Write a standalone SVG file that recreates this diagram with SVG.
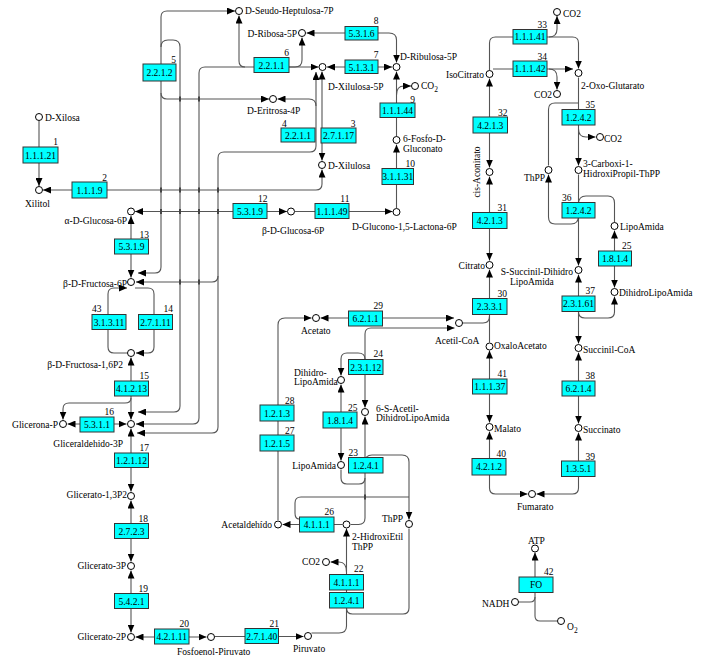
<svg xmlns="http://www.w3.org/2000/svg" width="702" height="659" viewBox="0 0 702 659">
<defs>
<marker id="a" viewBox="0 0 8 7" refX="8" refY="3.5" markerWidth="8" markerHeight="7" markerUnits="userSpaceOnUse" orient="auto-start-reverse"><path d="M0,0L8,3.5L0,7z" fill="#000"/></marker>
<style>
.l{fill:none;stroke:#555;stroke-width:1.1}
.s{marker-start:url(#a)}
.e{marker-end:url(#a)}
.k{fill:#444}
.c{fill:#fff;stroke:#000;stroke-width:1}
.b{fill:#00ffff;stroke:#333;stroke-width:1}
text{font-family:"Liberation Serif",serif;font-size:9.5px;fill:#000}
.m{text-anchor:middle}
.r{text-anchor:end}
</style>
</defs>
<rect width="702" height="659" fill="#fff"/>
<g id="connectors">
<path class="l e" d="M39,121L39,186"/>
<path class="l s e" d="M43,190L316,190Q322,190 322,184L322,169.5"/>
<path class="l s e" d="M235,11L167,11Q161,11 161,17L161,267Q161,273 155,273L138,273"/>
<path class="l e" d="M161,47Q161,40 168,40L173,40Q180,40 180,47L180,406Q180,412 174,412L138,412"/>
<path class="l e" d="M161,93Q161,99 167,99L269,99"/>
<path class="l s e" d="M318.5,67L205,67Q199,67 199,73L199,418Q199,424 193,424L136,424"/>
<path class="l s" d="M239,15.5L239,61Q239,67 245,67"/>
<path class="l e" d="M289,67L295,67Q302,67 302,60L302,37.5"/>
<path class="l s e" d="M316,72L316,146Q316,152 310,152L224,152Q218,152 218,158L218,427Q218,433 212,433L137,433"/>
<path class="l e" d="M218,276Q218,282 212,282L136,282"/>
<path class="l e" d="M316,106Q316,99 309,99L277.5,99"/>
<path class="l s e" d="M322,71.5L322,160.5"/>
<path class="l s e" d="M327,67L392,67"/>
<path class="l s e" d="M306.5,33L389,33Q396.5,33 396.5,40L396.5,62.5"/>
<path class="l s" d="M396.5,71.5L396.5,136.5"/>
<path class="l e" d="M396.5,95Q396.5,86 404,86L411,86"/>
<path class="l s" d="M396.5,144.5L396.5,208"/>
<path class="l e" d="M295,211.5L392.5,211.5"/>
<path class="l s e" d="M135,211.5L287,211.5"/>
<path class="l s e" d="M131,216L131,277.5"/>
<path class="l e" d="M127.5,353L114,353Q108,353 108,347L108,294Q108,288 114,288L127,288"/>
<path class="l e" d="M135,288L148,288Q154,288 154,294L154,347Q154,353 148,353L136,353"/>
<path class="l s e" d="M131,357.5L131,419.5"/>
<path class="l e" d="M131,398Q131,403 125,403L69,403Q63,403 63,409L63,419.5"/>
<path class="l s e" d="M67.5,424L126.5,424"/>
<path class="l s e" d="M131,428.5L131,491.5"/>
<path class="l s e" d="M131,500.5L131,561.5"/>
<path class="l s e" d="M131,570.5L131,632.5"/>
<path class="l s e" d="M135.5,637L206.5,637"/>
<path class="l e" d="M215,636.5L303.5,636.5"/>
<path class="l e" d="M311.5,633L339,633Q346.5,633 346.5,626L346.5,528.5"/>
<path class="l e" d="M346.5,572Q346.5,562 339,562L330.5,562"/>
<path class="l" d="M409,528.5L409,608Q409,614 403,614L352.5,614Q346.5,614 346.5,608"/>
<path class="l e" d="M342.5,524.5L282.5,524.5"/>
<path class="l s" d="M365,416.5L365,518Q365,524.5 358.5,524.5L351,524.5"/>
<path class="l e" d="M365,462Q365,455 372,455L402,455Q409,455 409,462L409,519.5"/>
<path class="l" d="M299,519Q295,519 295,513L295,503Q295,497 301,497L409,497"/>
<path class="l s e" d="M454.5,328L371,328Q365,328 365,334L365,407.5"/>
<path class="l e" d="M365,359Q365,353 358,353L347,353Q341,353 341,359L341,375.5"/>
<path class="l s e" d="M341,384.5L341,460.5"/>
<path class="l" d="M341,469.5L341,478Q341,484 347,484L359,484Q365,484 365,478"/>
<path class="l s e" d="M320.5,318L454,318"/>
<path class="l e" d="M278,520L278,325Q278,318 285,318L311.5,318"/>
<path class="l" d="M462.5,323L483,323Q489.5,323 489.5,316"/>
<path class="l s" d="M489.5,269.5L489.5,342.5"/>
<path class="l s e" d="M489.5,350.5L489.5,422.5"/>
<path class="l s e" d="M489.5,431.5L489.5,488Q489.5,494 495.5,494L527.5,494"/>
<path class="l s e" d="M578.5,432.5L578.5,488Q578.5,494 572.5,494L536.5,494"/>
<path class="l s e" d="M578.5,352.5L578.5,423.5"/>
<path class="l s e" d="M578.5,274.5L578.5,343.5"/>
<path class="l e" d="M578.5,312Q578.5,318 585,318L608,318Q614.5,318 614.5,312L614.5,296.5"/>
<path class="l s e" d="M614.5,230.5L614.5,287.5"/>
<path class="l e" d="M578.5,174.5L578.5,265.5"/>
<path class="l" d="M578.5,204Q578.5,196 586,196L608,196Q614.5,196 614.5,203L614.5,222.5"/>
<path class="l e" d="M578.5,216Q578.5,224 571,224L555,224Q548.5,224 548.5,217L548.5,174.5"/>
<path class="l e" d="M578.5,77.5L578.5,165.5"/>
<path class="l e" d="M578.5,129Q578.5,137 586,137L595.5,137"/>
<path class="l" d="M578.5,103L555,103Q548.5,103 548.5,109.5L548.5,165.5"/>
<path class="l e" d="M489.5,70.5L489.5,43Q489.5,37 495.5,37L572.5,37Q578.5,37 578.5,43L578.5,68.5"/>
<path class="l e" d="M549,37Q557,37 557,29L557,16"/>
<path class="l e" d="M493,69L573,69"/>
<path class="l e" d="M549,69Q557,69 557,77L557,89.5"/>
<path class="l s e" d="M489.5,78.5L489.5,167.5"/>
<path class="l s e" d="M489.5,176.5L489.5,260.5"/>
<path class="l s" d="M535,552.5L535,616Q535,621 540,621L557,621"/>
<path class="l" d="M518.5,602L530,602Q535,602 535,597"/>
<g class="k">
<rect x="179" y="96.5" width="2" height="5"/><rect x="198" y="96.5" width="2" height="5"/>
<rect x="160" y="187.5" width="2" height="5"/><rect x="179" y="187.5" width="2" height="5"/><rect x="198" y="187.5" width="2" height="5"/><rect x="217" y="187.5" width="2" height="5"/>
<rect x="160" y="209" width="2" height="5"/><rect x="179" y="209" width="2" height="5"/><rect x="198" y="209" width="2" height="5"/><rect x="217" y="209" width="2" height="5"/>
<rect x="179" y="279.5" width="2" height="5"/><rect x="198" y="279.5" width="2" height="5"/>
<rect x="364" y="494.5" width="2" height="5"/>
</g>
</g>
<g id="c-xilosa"><circle class="c" cx="39" cy="117" r="3.5"/><text x="45" y="121">D-Xilosa</text></g>
<g id="c-xilitol"><circle class="c" cx="39" cy="190" r="3.5"/><text x="25" y="207">Xilitol</text></g>
<g id="c-sedoheptulosa"><circle class="c" cx="239" cy="11" r="3.5"/><text x="245" y="14">D-Seudo-Heptulosa-7P</text></g>
<g id="c-ribosa"><circle class="c" cx="302" cy="33" r="3.5"/><text class="r" x="297" y="37">D-Ribosa-5P</text></g>
<g id="c-xilulosa5p"><circle class="c" cx="322.5" cy="67" r="3.5"/><text x="328" y="90">D-Xilulosa-5P</text></g>
<g id="c-ribulosa"><circle class="c" cx="396.5" cy="67" r="3.5"/><text x="400" y="60">D-Ribulosa-5P</text></g>
<g id="c-co2a"><circle class="c" cx="415" cy="86" r="3.5"/><text x="421" y="89">CO<tspan font-size="7.5" dy="3">2</tspan></text></g>
<g id="c-eritrosa"><circle class="c" cx="273" cy="99" r="3.5"/><text x="247" y="113.5">D-Eritrosa-4P</text></g>
<g id="c-fosfogluconato"><circle class="c" cx="396.5" cy="140" r="3.5"/><text x="403" y="142">6-Fosfo-D-</text><text x="403" y="152">Gluconato</text></g>
<g id="c-xilulosa"><circle class="c" cx="322" cy="165" r="3.5"/><text x="328" y="168.5">D-Xilulosa</text></g>
<g id="c-aglucosa6p"><circle class="c" cx="131" cy="211.5" r="3.5"/><text class="r" x="127" y="223.5">α-D-Glucosa-6P</text></g>
<g id="c-bglucosa6p"><circle class="c" cx="291" cy="211.5" r="3.5"/><text x="262" y="233.5">β-D-Glucosa-6P</text></g>
<g id="c-lactona"><circle class="c" cx="396.5" cy="212" r="3.5"/><text x="352" y="230">D-Glucono-1,5-Lactona-6P</text></g>
<g id="c-fructosa6p"><circle class="c" cx="131" cy="282" r="3.5"/><text class="r" x="127" y="287">β-D-Fructosa-6P</text></g>
<g id="c-fructosa16p2"><circle class="c" cx="131" cy="353" r="3.5"/><text class="r" x="123" y="368">β-D-Fructosa-1,6P2</text></g>
<g id="c-glicerona"><circle class="c" cx="63" cy="424" r="3.5"/><text class="r" x="58" y="427.5">Glicerona-P</text></g>
<g id="c-gap"><circle class="c" cx="131" cy="424" r="3.5"/><text class="r" x="123" y="447">Gliceraldehido-3P</text></g>
<g id="c-glicerato13p2"><circle class="c" cx="131" cy="496" r="3.5"/><text class="r" x="127" y="497.5">Glicerato-1,3P2</text></g>
<g id="c-glicerato3p"><circle class="c" cx="131" cy="566" r="3.5"/><text class="r" x="126" y="569">Glicerato-3P</text></g>
<g id="c-glicerato2p"><circle class="c" cx="131" cy="637" r="3.5"/><text class="r" x="126" y="640">Glicerato-2P</text></g>
<g id="c-pep"><circle class="c" cx="211" cy="637" r="3.5"/><text x="177" y="654.5">Fosfoenol-Piruvato</text></g>
<g id="c-piruvato"><circle class="c" cx="308" cy="636" r="3.5"/><text x="293" y="652">Piruvato</text></g>
<g id="c-co2b"><circle class="c" cx="326" cy="562" r="3.5"/><text class="r" x="320" y="565">CO2</text></g>
<g id="c-hidroxietil"><circle class="c" cx="346.5" cy="524.5" r="3.5"/><text x="352" y="540">2-HidroxiEtil</text><text x="352" y="549.5">ThPP</text></g>
<g id="c-acetaldehido"><circle class="c" cx="278" cy="524.5" r="3.5"/><text class="r" x="272" y="528">Acetaldehído</text></g>
<g id="c-thpp1"><circle class="c" cx="409" cy="524" r="3.5"/><text class="r" x="403" y="522">ThPP</text></g>
<g id="c-lipoamida1"><circle class="c" cx="341" cy="465" r="3.5"/><text class="r" x="336" y="468.5">LipoAmida</text></g>
<g id="c-dihidrolipoamida1"><circle class="c" cx="341" cy="380" r="3.5"/><text x="294" y="376">Dihidro-</text><text x="294" y="385">LipoAmida</text></g>
<g id="c-acetildihidro"><circle class="c" cx="365" cy="412" r="3.5"/><text x="376" y="412">6-S-Acetil-</text><text x="376" y="421">DihidroLipoAmida</text></g>
<g id="c-acetato"><circle class="c" cx="316" cy="318" r="3.5"/><text x="301" y="333.5">Acetato</text></g>
<g id="c-acetilcoa"><circle class="c" cx="459" cy="323" r="3.5"/><text x="435" y="343.5">Acetil-CoA</text></g>
<g id="c-isocitrato"><circle class="c" cx="489.5" cy="74" r="3.5"/><text class="r" x="484" y="77.5">IsoCitrato</text></g>
<g id="c-co2c"><circle class="c" cx="557" cy="12" r="3.5"/><text x="563" y="17">CO2</text></g>
<g id="c-co2d"><circle class="c" cx="557" cy="94" r="3.5"/><text class="r" x="552" y="97.5">CO2</text></g>
<g id="c-oxoglutarato"><circle class="c" cx="578.5" cy="73" r="3.5"/><text x="581" y="88.5">2-Oxo-Glutarato</text></g>
<g id="c-co2e"><circle class="c" cx="600" cy="137" r="3.5"/><text x="604" y="142">CO2</text></g>
<g id="c-thpp2"><circle class="c" cx="548.5" cy="170" r="3.5"/><text class="r" x="545" y="181">ThPP</text></g>
<g id="c-carboxi"><circle class="c" cx="578.5" cy="170" r="3.5"/><text x="583" y="167">3-Carboxi-1-</text><text x="583" y="177">HidroxiPropil-ThPP</text></g>
<g id="c-lipoamida2"><circle class="c" cx="614.5" cy="226" r="3.5"/><text x="620" y="230">LipoAmida</text></g>
<g id="c-succinildihidro"><circle class="c" cx="578.5" cy="270" r="3.5"/><text class="r" x="573" y="274.5">S-Succinil-Dihidro</text><text x="510" y="284.5">LipoAmida</text></g>
<g id="c-dihidrolipoamida2"><circle class="c" cx="614.5" cy="292" r="3.5"/><text x="619" y="296">DihidroLipoAmida</text></g>
<g id="c-cisaconitato"><circle class="c" cx="489.5" cy="172" r="3.5"/><text class="m" x="480" y="172" transform="rotate(-90 480 172)">cis-Aconitato</text></g>
<g id="c-citrato"><circle class="c" cx="489.5" cy="265" r="3.5"/><text class="r" x="485" y="268.5">Citrato</text></g>
<g id="c-oxaloacetato"><circle class="c" cx="489.5" cy="346.5" r="3.5"/><text x="494" y="349">OxaloAcetato</text></g>
<g id="c-succinilcoa"><circle class="c" cx="578.5" cy="348" r="3.5"/><text x="583" y="353">Succinil-CoA</text></g>
<g id="c-succinato"><circle class="c" cx="578.5" cy="428" r="3.5"/><text x="583" y="433">Succinato</text></g>
<g id="c-malato"><circle class="c" cx="489.5" cy="427" r="3.5"/><text x="494" y="432">Malato</text></g>
<g id="c-fumarato"><circle class="c" cx="532" cy="494" r="3.5"/><text x="517" y="510">Fumarato</text></g>
<g id="c-atp"><circle class="c" cx="535" cy="548.5" r="3.5"/><text x="528" y="543.5">ATP</text></g>
<g id="c-nadh"><circle class="c" cx="515" cy="602" r="3.5"/><text x="482" y="606.5">NADH</text></g>
<g id="c-o2"><circle class="c" cx="561" cy="621" r="3.5"/><text x="567" y="630">O<tspan font-size="7.5" dy="3">2</tspan></text></g>
<g id="e1"><rect class="b" x="23" y="147" width="35" height="16"/><text class="m" x="40.5" y="158.5">1.1.1.21</text><text class="r" x="58" y="145">1</text></g>
<g id="e2"><rect class="b" x="72" y="182" width="35" height="16"/><text class="m" x="89.5" y="193.5">1.1.1.9</text><text class="r" x="107" y="181">2</text></g>
<g id="e3"><rect class="b" x="321" y="128" width="35" height="15"/><text class="m" x="338.5" y="139">2.7.1.17</text><text class="r" x="355.5" y="126.5">3</text></g>
<g id="e4"><rect class="b" x="281" y="128" width="34" height="14"/><text class="m" x="298" y="138.5">2.2.1.1</text><text x="282" y="126.5">4</text></g>
<g id="e5"><rect class="b" x="143" y="64" width="33" height="17"/><text class="m" x="159.5" y="76">2.2.1.2</text><text class="r" x="176" y="62.5">5</text></g>
<g id="e6"><rect class="b" x="254" y="57.5" width="35" height="15"/><text class="m" x="271.5" y="68.5">2.2.1.1</text><text class="r" x="289" y="56">6</text></g>
<g id="e7"><rect class="b" x="345" y="60" width="33" height="13.5"/><text class="m" x="361.5" y="70.5">5.1.3.1</text><text class="r" x="378.5" y="57.5">7</text></g>
<g id="e8"><rect class="b" x="345" y="26.5" width="33" height="13.5"/><text class="m" x="361.5" y="37">5.3.1.6</text><text class="r" x="378.5" y="24">8</text></g>
<g id="e9"><rect class="b" x="380" y="103" width="35" height="14.5"/><text class="m" x="397.5" y="113.5">1.1.1.44</text><text class="r" x="415" y="102.5">9</text></g>
<g id="e10"><rect class="b" x="382" y="168.5" width="31.5" height="16"/><text class="m" x="397.8" y="180">3.1.1.31</text><text class="r" x="415" y="166.5">10</text></g>
<g id="e11"><rect class="b" x="315" y="203.5" width="34" height="15"/><text class="m" x="332" y="214.5">1.1.1.49</text><text class="r" x="349.5" y="201.5">11</text></g>
<g id="e12"><rect class="b" x="233" y="203.5" width="34" height="15"/><text class="m" x="250" y="214.5">5.3.1.9</text><text class="r" x="267.5" y="201.5">12</text></g>
<g id="e13"><rect class="b" x="114.5" y="239" width="34" height="15"/><text class="m" x="131.5" y="250">5.3.1.9</text><text class="r" x="149" y="237.5">13</text></g>
<g id="e14"><rect class="b" x="138.5" y="314.5" width="34" height="15"/><text class="m" x="155.5" y="325.5">2.7.1.11</text><text class="r" x="173" y="312">14</text></g>
<g id="e43"><rect class="b" x="92" y="314.5" width="34" height="15"/><text class="m" x="109" y="325.5">3.1.3.11</text><text x="92" y="312">43</text></g>
<g id="e15"><rect class="b" x="114.5" y="381" width="34" height="15"/><text class="m" x="131.5" y="392">4.1.2.13</text><text class="r" x="149" y="379">15</text></g>
<g id="e16"><rect class="b" x="80" y="417" width="34" height="15"/><text class="m" x="97" y="428">5.3.1.1</text><text class="r" x="114" y="414.5">16</text></g>
<g id="e17"><rect class="b" x="114.5" y="453" width="34" height="14.5"/><text class="m" x="131.5" y="463.5">1.2.1.12</text><text class="r" x="149" y="450.5">17</text></g>
<g id="e18"><rect class="b" x="114.5" y="523.5" width="34" height="15"/><text class="m" x="131.5" y="534.5">2.7.2.3</text><text class="r" x="148" y="521.5">18</text></g>
<g id="e19"><rect class="b" x="114.5" y="593.5" width="34" height="15"/><text class="m" x="131.5" y="604.5">5.4.2.1</text><text class="r" x="148" y="592">19</text></g>
<g id="e20"><rect class="b" x="154.5" y="629" width="34.5" height="15"/><text class="m" x="171.7" y="640">4.2.1.11</text><text class="r" x="189" y="627">20</text></g>
<g id="e21"><rect class="b" x="245" y="628.5" width="33.5" height="15"/><text class="m" x="261.7" y="639.5">2.7.1.40</text><text class="r" x="279" y="627">21</text></g>
<g id="e22"><rect class="b" x="329.5" y="574.5" width="34" height="15.5"/><text class="m" x="346.5" y="585.5">4.1.1.1</text><rect class="b" x="329.5" y="592.5" width="34" height="15.5"/><text class="m" x="346.5" y="603.5">1.2.4.1</text><text class="r" x="363.5" y="572">22</text></g>
<g id="e23"><rect class="b" x="348.5" y="457.5" width="34.5" height="15.5"/><text class="m" x="365.7" y="468.5">1.2.4.1</text><text x="348.5" y="455.5">23</text></g>
<g id="e24"><rect class="b" x="348.5" y="359.5" width="34.5" height="15"/><text class="m" x="365.7" y="370.5">2.3.1.12</text><text class="r" x="383" y="357">24</text></g>
<g id="e25"><rect class="b" x="323" y="412" width="34" height="16"/><text class="m" x="340" y="423.5">1.8.1.4</text><text class="r" x="357.5" y="410.5">25</text></g>
<g id="e26"><rect class="b" x="299.5" y="517" width="34.5" height="15"/><text class="m" x="316.7" y="528">4.1.1.1</text><text class="r" x="334" y="515">26</text></g>
<g id="e27"><rect class="b" x="260" y="435" width="34" height="16"/><text class="m" x="277" y="446.5">1.2.1.5</text><text class="r" x="294.5" y="433.5">27</text></g>
<g id="e28"><rect class="b" x="260" y="405" width="34" height="16"/><text class="m" x="277" y="416.5">1.2.1.3</text><text class="r" x="294.5" y="403.5">28</text></g>
<g id="e29"><rect class="b" x="348.5" y="311" width="34" height="15"/><text class="m" x="365.5" y="322">6.2.1.1</text><text class="r" x="383" y="309">29</text></g>
<g id="e30"><rect class="b" x="472.5" y="298.5" width="34.5" height="16"/><text class="m" x="489.7" y="310">2.3.3.1</text><text class="r" x="507" y="296.5">30</text></g>
<g id="e31"><rect class="b" x="472.5" y="212.5" width="34.5" height="16"/><text class="m" x="489.7" y="224">4.2.1.3</text><text class="r" x="507" y="210.5">31</text></g>
<g id="e32"><rect class="b" x="473" y="117" width="34.5" height="16"/><text class="m" x="490.2" y="128.5">4.2.1.3</text><text class="r" x="507.5" y="115.5">32</text></g>
<g id="e33"><rect class="b" x="513" y="29.5" width="34" height="14.5"/><text class="m" x="530" y="40">1.1.1.41</text><text class="r" x="547" y="27.5">33</text></g>
<g id="e34"><rect class="b" x="513" y="61" width="34" height="15.5"/><text class="m" x="530" y="72">1.1.1.42</text><text class="r" x="547" y="59.5">34</text></g>
<g id="e35"><rect class="b" x="562" y="109.5" width="33" height="15.5"/><text class="m" x="578.5" y="120.5">1.2.4.2</text><text class="r" x="595" y="107.5">35</text></g>
<g id="e36"><rect class="b" x="562" y="202.5" width="33" height="15.5"/><text class="m" x="578.5" y="213.5">1.2.4.2</text><text x="562" y="200.5">36</text></g>
<g id="e25b"><rect class="b" x="598.5" y="251" width="33" height="15"/><text class="m" x="615" y="262">1.8.1.4</text><text class="r" x="631.5" y="249">25</text></g>
<g id="e37"><rect class="b" x="562" y="296" width="33" height="15.5"/><text class="m" x="578.5" y="307">2.3.1.61</text><text class="r" x="595" y="294">37</text></g>
<g id="e38"><rect class="b" x="562" y="381" width="33" height="15"/><text class="m" x="578.5" y="392">6.2.1.4</text><text class="r" x="595" y="379">38</text></g>
<g id="e39"><rect class="b" x="561.5" y="461" width="33.5" height="15.5"/><text class="m" x="578.2" y="472">1.3.5.1</text><text class="r" x="595" y="459.5">39</text></g>
<g id="e40"><rect class="b" x="472" y="458.5" width="34" height="16.5"/><text class="m" x="489" y="470">4.2.1.2</text><text class="r" x="506" y="457">40</text></g>
<g id="e41"><rect class="b" x="472.5" y="379" width="34.5" height="15"/><text class="m" x="489.7" y="390">1.1.1.37</text><text class="r" x="507" y="377">41</text></g>
<g id="e42"><rect class="b" x="519" y="577" width="34" height="15.5"/><text class="m" x="536" y="588">FO</text><text class="r" x="553.5" y="575">42</text></g>
</svg>
